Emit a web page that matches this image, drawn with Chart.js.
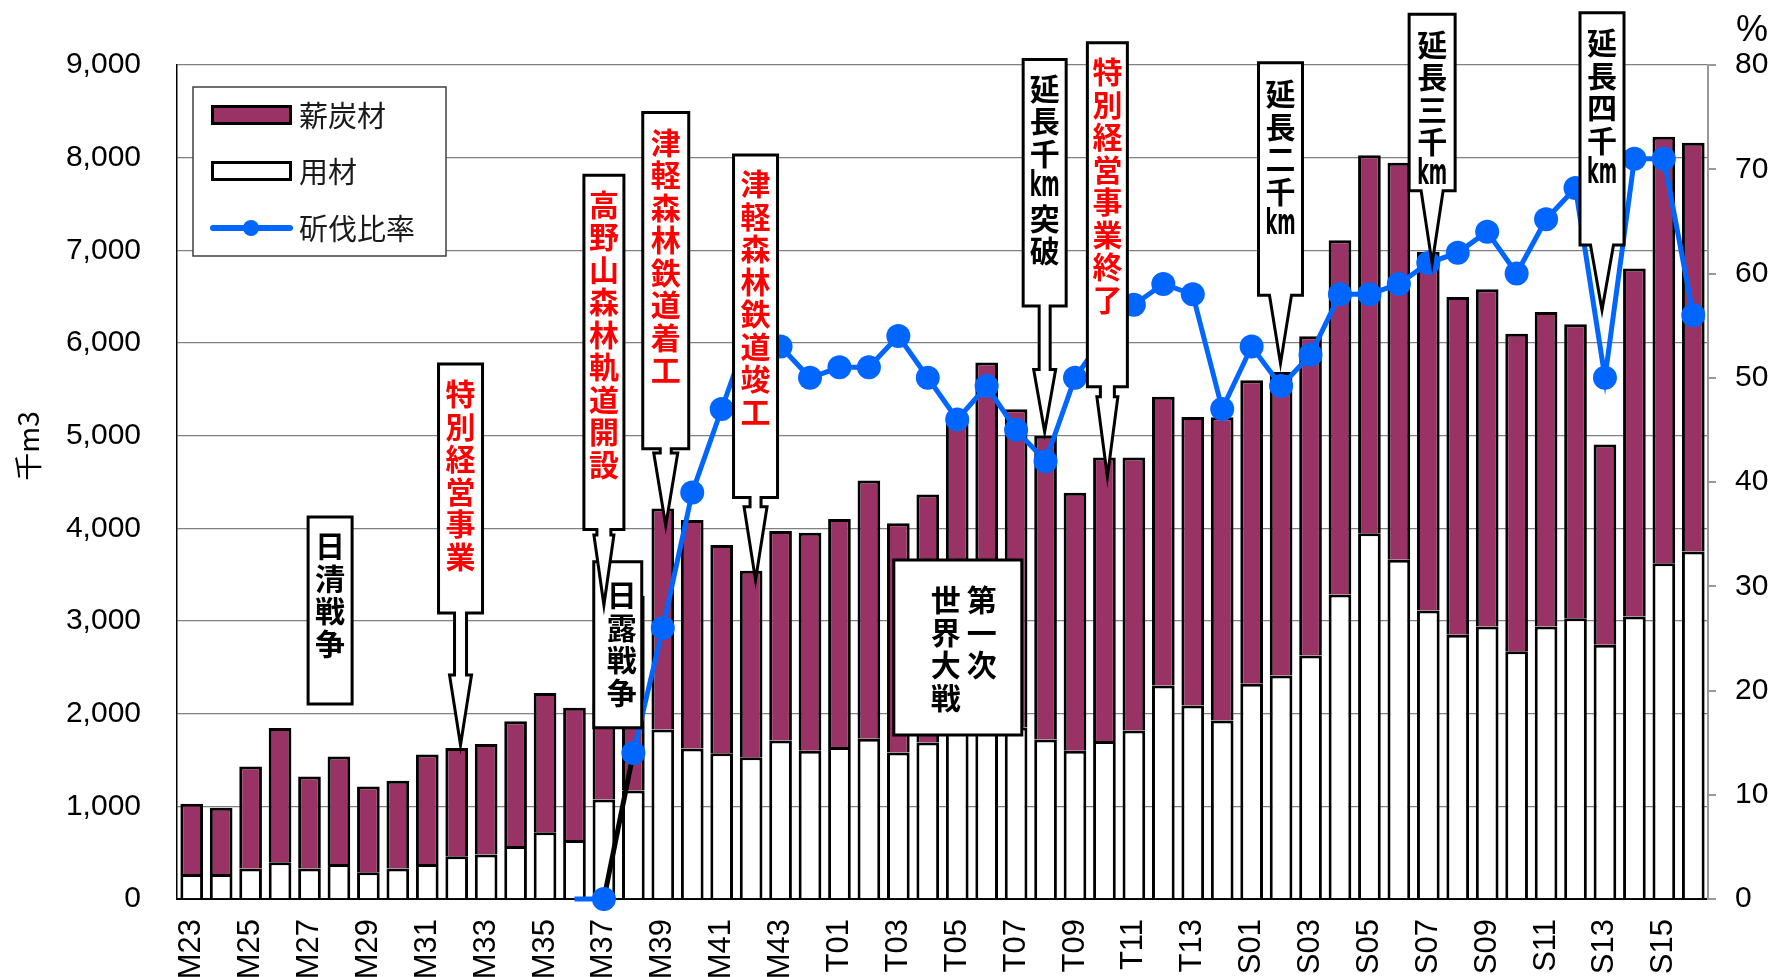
<!DOCTYPE html>
<html lang="ja">
<head>
<meta charset="utf-8">
<title>斫伐比率</title>
<script src="https://cdn.jsdelivr.net/npm/chart.js@4.4.1/dist/chart.umd.min.js"></script>
<style>
  html, body { margin: 0; padding: 0; background: #fff; }
  #wrap { width: 1774px; height: 977px; }
</style>
</head>
<body>
<div id="wrap"><canvas id="chart" width="1774" height="977"></canvas></div>
<script>
// 年度 (M45 = T01, T15 = S01 なので重複なし)
const YEARS = [
  'M23','M24','M25','M26','M27','M28','M29','M30','M31','M32','M33','M34','M35','M36',
  'M37','M38','M39','M40','M41','M42','M43','M44',
  'T01','T02','T03','T04','T05','T06','T07','T08','T09','T10','T11','T12','T13','T14',
  'S01','S02','S03','S04','S05','S06','S07','S08','S09','S10','S11','S12','S13','S14','S15','S16'
]

// 用材 (千m3)
const TIMBER = [
  270, 270, 330, 396, 330, 378, 288, 330, 378, 461, 479, 573, 721, 638,
  1075, 1172, 1830, 1625, 1574, 1531, 1711, 1600,
  1639, 1730, 1580, 1690, 1800, 1900, 1850, 1720, 1600, 1705, 1818, 2303, 2087, 1925,
  2322, 2411, 2627, 3286, 3948, 3661, 3113, 2851, 2941, 2674, 2941, 3030, 2743, 3049, 3624, 3751
]

// 薪炭材 (千m3)
const FUEL = [
  757, 715, 1100, 1449, 992, 1161, 926, 946, 1182, 1168, 1193, 1344, 1502, 1425,
  1025, 2100, 2385, 2465, 2246, 2011, 2260, 2353,
  2462, 2785, 2475, 2676, 3350, 3890, 3435, 3280, 2785, 3060, 2947, 3117, 3114, 3275,
  3275, 3276, 3445, 3823, 4079, 4283, 3870, 3646, 3639, 3427, 3394, 3172, 2163, 3754, 4601, 4409
]

// 斫伐比率 (%)
const RATIO = [
  null, null, null, null, null, null, null, null, null, null, null, null, null, 0,
  0, 14, 26, 39, 47, 55, 53, 50,
  51, 51, 54, 50, 46, 49.2, 45, 42, 50, 54, 57, 59, 58, 47,
  53, 49.2, 52.2, 58, 58, 59, 61, 62, 64, 60, 65.2, 68.2, 50, 71, 71, 56
]

const LEFT_MAX = 9000
const LEFT_STEP = 1000
const RIGHT_MAX = 80
const RIGHT_STEP = 10

const MAROON = '#993366'
const BLUE = '#0066ff'
const CJK = "'Noto Sans CJK JP', 'Noto Sans CJK SC', sans-serif"

// 吹き出し: at = 区分位置, top/bottom/neck/tip = 左軸の値
const NOTES = [
  { cols: [{ t: '日清戦争' }], color: '#000', at: 4.7, w: 44, top: 4122, bottom: 2104, pad: 29 },
  { cols: [{ t: '特別経営事業' }], color: '#ff0000', at: 9.13, w: 44, top: 5773, bottom: 3086, pad: 30,
    arrow: { neck: 2417, nw: 12, tip: 1662, hw: 22 } },
  { cols: [{ t: '日露戦争', dx: 4 }], color: '#000', at: 14.47, w: 48, top: 3639, bottom: 1847, pad: 33 },
  { cols: [{ t: '高野山森林軌道開設' }], color: '#ff0000', at: 14, w: 40, top: 7809, bottom: 3988, pad: 29,
    arrow: { neck: 3928, nw: 14, tip: 3172, hw: 20 } },
  { cols: [{ t: '津軽森林鉄道着工' }], color: '#ff0000', at: 16.1, w: 46, top: 8488, bottom: 4858, pad: 30,
    arrow: { neck: 4812, nw: 11, tip: 4030, hw: 24 } },
  { cols: [{ t: '津軽森林鉄道竣工' }], color: '#ff0000', at: 19.15, w: 44, top: 8028, bottom: 4334, pad: 29,
    arrow: { neck: 4233, nw: 11, tip: 3442, hw: 23 } },
  { cols: [{ t: '第一次', dx: 24 }, { t: '世界大戦', dx: -12 }], color: '#000', at: 26.02, w: 128, top: 3658, bottom: 1770, pad: 40 },
  { cols: [{ t: '延長千km突破' }], color: '#000', at: 28.97, w: 43, top: 9060, bottom: 6398, pad: 29,
    arrow: { neck: 5715, nw: 11, tip: 5042, hw: 22 } },
  { cols: [{ t: '特別経営事業終了' }], color: '#ff0000', at: 31.1, w: 40, top: 9240, bottom: 5528, pad: 29,
    arrow: { neck: 5420, nw: 14, tip: 4557, hw: 21 } },
  { cols: [{ t: '延長二千km' }], color: '#000', at: 36.98, w: 44, top: 9024, bottom: 6514, pad: 31,
    arrow: { neck: 6514, nw: 22, tip: 5780, hw: 22 } },
  { cols: [{ t: '延長三千km' }], color: '#000', at: 42.13, w: 46, top: 9549, bottom: 7643, pad: 30,
    arrow: { neck: 7643, nw: 22, tip: 6859, hw: 22 } },
  { cols: [{ t: '延長四千km' }], color: '#000', at: 47.9, w: 44, top: 9563, bottom: 7057, pad: 30,
    arrow: { neck: 7057, nw: 23, tip: 6355, hw: 23 } },
]

Chart.defaults.font.family = "'Liberation Sans', Arial, sans-serif"
Chart.defaults.color = '#000'

function drawChar(ctx, ch, x, y, color) {
  ctx.fillStyle = color
  if (ch === 'km') {
    ctx.save()
    ctx.font = "bold 36px 'Liberation Sans Narrow', 'DejaVu Sans Condensed', sans-serif"
    const w = ctx.measureText(ch).width
    const s = Math.min(1, 30 / w)
    ctx.translate(x, y)
    ctx.scale(s, 1)
    ctx.textBaseline = 'middle'
    ctx.fillText(ch, 0, 1)
    ctx.restore()
    return
  }
  ctx.font = 'bold 30px ' + CJK
  ctx.fillText(ch, x, y)
}

const notesPlugin = {
  id: 'notes',
  afterDatasetsDraw(chart) {
    const { ctx } = chart
    const xs = chart.scales.x, ys = chart.scales.y
    ctx.save()
    NOTES.forEach(n => {
      const cx = xs.getPixelForValue(n.at)
      const L = cx - n.w / 2, R = cx + n.w / 2
      const T = ys.getPixelForValue(n.top), B = ys.getPixelForValue(n.bottom)
      ctx.beginPath()
      ctx.moveTo(L, T)
      ctx.lineTo(R, T)
      ctx.lineTo(R, B)
      if (n.arrow) {
        const a = n.arrow
        const ne = ys.getPixelForValue(a.neck), tp = ys.getPixelForValue(a.tip)
        ctx.lineTo(cx + a.nw / 2, B)
        ctx.lineTo(cx + a.nw / 2, ne)
        ctx.lineTo(cx + a.hw / 2, ne)
        ctx.lineTo(cx, tp)
        ctx.lineTo(cx - a.hw / 2, ne)
        ctx.lineTo(cx - a.nw / 2, ne)
        ctx.lineTo(cx - a.nw / 2, B)
      }
      ctx.lineTo(L, B)
      ctx.closePath()
      ctx.fillStyle = '#fff'
      ctx.fill()
      ctx.lineWidth = 3
      ctx.lineJoin = 'miter'
      ctx.strokeStyle = '#000'
      ctx.stroke()

      ctx.textAlign = 'center'
      ctx.textBaseline = 'middle'
      n.cols.forEach(c => {
        const chars = c.t.match(/km|[\s\S]/g)
        chars.forEach((ch, i) => drawChar(ctx, ch, cx + (c.dx || 0), T + n.pad + i * 32.5, n.color))
      })
    })
    ctx.restore()
  }
}

const legendPlugin = {
  id: 'boxLegend',
  afterDatasetsDraw(chart) {
    const { ctx } = chart
    const ds = chart.data.datasets
    const fuel = ds.find(d => d.label === '薪炭材')
    const timber = ds.find(d => d.label === '用材')
    const ratio = ds.find(d => d.label === '斫伐比率')
    ctx.save()
    ctx.fillStyle = '#fff'
    ctx.fillRect(193, 87, 253, 169)
    ctx.strokeStyle = '#404040'
    ctx.lineWidth = 1.5
    ctx.strokeRect(193, 87, 253, 169)

    const rows = [
      { d: fuel, y: 115 },
      { d: timber, y: 171 },
      { d: ratio, y: 228 },
    ]
    rows.forEach(({ d, y }) => {
      if (d.type === 'line') {
        ctx.strokeStyle = d.borderColor
        ctx.lineWidth = 6
        ctx.lineCap = 'round'
        ctx.beginPath(); ctx.moveTo(213, y); ctx.lineTo(290, y); ctx.stroke()
        ctx.fillStyle = d.borderColor
        ctx.beginPath(); ctx.arc(251, y, 8, 0, Math.PI * 2); ctx.fill()
      } else {
        ctx.fillStyle = d.backgroundColor
        ctx.fillRect(212.5, y - 8.5, 78, 17)
        ctx.strokeStyle = '#000'
        ctx.lineWidth = 3
        ctx.strokeRect(212.5, y - 8.5, 78, 17)
      }
      ctx.fillStyle = '#1a1a1a'
      ctx.font = '29px ' + CJK
      ctx.textAlign = 'left'
      ctx.textBaseline = 'middle'
      ctx.fillText(d.label, 299, y + 1)
    })
    ctx.restore()
  }
}

const titlesPlugin = {
  id: 'axisTitles',
  afterDraw(chart) {
    const { ctx } = chart
    ctx.save()
    ctx.fillStyle = '#000'
    ctx.font = "28px 'Noto Sans CJK JP', 'Liberation Sans', sans-serif"
    ctx.textAlign = 'center'
    ctx.textBaseline = 'middle'
    ctx.translate(28, 446)
    ctx.rotate(-Math.PI / 2)
    ctx.fillText('千m3', 0, 0)
    ctx.restore()

    ctx.save()
    ctx.fillStyle = '#000'
    ctx.font = "36px 'Liberation Sans', Arial, sans-serif"
    ctx.textAlign = 'left'
    ctx.textBaseline = 'alphabetic'
    ctx.fillText('%', chart.chartArea.right + 28, 41)
    ctx.restore()
  }
}

new Chart(document.getElementById('chart'), {
  type: 'bar',
  data: {
    labels: YEARS,
    datasets: [
      {
        type: 'line',
        label: '斫伐比率',
        data: RATIO,
        yAxisID: 'y2',
        order: 0,
        borderColor: BLUE,
        backgroundColor: BLUE,
        borderWidth: 5,
        pointRadius: ctx => (ctx.dataIndex === 13 ? 0 : 12),
        pointBorderWidth: 0,
        pointBackgroundColor: BLUE,
        clip: false,
        segment: {
          borderColor: ctx => (ctx.p0DataIndex === 14 ? '#000' : BLUE)
        }
      },
      {
        label: '用材',
        data: TIMBER,
        stack: 'wood',
        order: 1,
        backgroundColor: '#ffffff',
        borderColor: '#000',
        borderWidth: 3
      },
      {
        label: '薪炭材',
        data: FUEL,
        stack: 'wood',
        order: 1,
        backgroundColor: MAROON,
        borderColor: '#000',
        borderWidth: 3
      }
    ]
  },
  options: {
    responsive: false,
    animation: false,
    layout: { padding: { top: 65, left: 0, right: 0, bottom: 0 } },
    datasets: { bar: { barPercentage: 0.77, categoryPercentage: 1 } },
    plugins: {
      legend: { display: false },
      tooltip: { enabled: false }
    },
    scales: {
      x: {
        stacked: true,
        grid: { display: false, drawTicks: false },
        border: { color: '#000', width: 2 },
        ticks: {
          autoSkip: false,
          minRotation: 90,
          maxRotation: 90,
          padding: 20,
          font: { size: 31 },
          callback: (v, i) => (i % 2 === 0 ? YEARS[i] : '')
        },
        afterFit: s => { s.height = 78 }
      },
      y: {
        stacked: true,
        min: 0,
        max: LEFT_MAX,
        ticks: {
          stepSize: LEFT_STEP,
          padding: 36,
          font: { size: 30 },
          callback: v => v.toLocaleString('en-US')
        },
        grid: { color: '#808080', lineWidth: 1.3, drawTicks: false },
        border: { color: '#000', width: 1.5 },
        afterFit: s => { s.width = 177 }
      },
      y2: {
        position: 'right',
        min: 0,
        max: RIGHT_MAX,
        ticks: { stepSize: RIGHT_STEP, padding: 19, font: { size: 30 } },
        grid: { drawOnChartArea: false, color: '#999', tickLength: 8, lineWidth: 2 },
        border: { color: '#999', width: 2 },
        afterFit: s => { s.width = 66 }
      }
    }
  },
  plugins: [legendPlugin, notesPlugin, titlesPlugin]
})
</script>
</body>
</html>
